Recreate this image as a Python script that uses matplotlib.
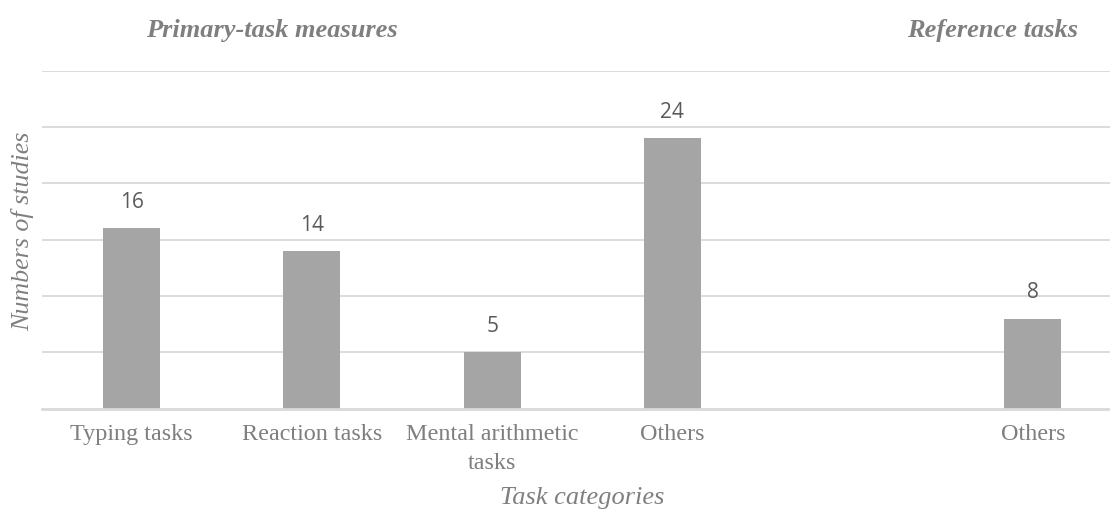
import numpy as np
import matplotlib
matplotlib.use("Agg")
import matplotlib.pyplot as plt

# categories (blank slot separates the two groups)
categories = ["Typing tasks", "Reaction tasks", "Mental arithmetic\ntasks", "Others", "", "Others"]
studies = [16, 14, 5, 24, np.nan, 8]
group_titles = ["Primary-task measures", "Reference tasks"]

serif = ["Liberation Serif", "DejaVu Serif"]
bar_color = "#a5a5a5"
grid_color = "#d9d9d9"
text_gray = "#7f7f7f"

fig = plt.figure(figsize=(11.1, 5.12), dpi=100)
ax = fig.add_axes([0.0374, 0.2018, 0.9743, 0.660])

x = np.arange(len(categories))
heights = np.nan_to_num(studies)
bars = ax.bar(x, heights, width=0.316, color=bar_color, zorder=3)

for xi, v in zip(x, studies):
    if np.isnan(v):
        continue
    ax.annotate(f"{int(v)}", (xi, v), xytext=(0, 11), textcoords="offset points",
                ha="center", va="bottom", fontsize=15, color="#595959",
                family=["Open Sans", "DejaVu Sans"])

ax.set_xlim(-0.5, len(categories) - 0.5)
ax.set_ylim(0, 30)
ax.set_yticks(np.arange(5, 31, 5))
ax.yaxis.grid(True, color=grid_color, linewidth=1.3, zorder=0)
ax.tick_params(axis="y", left=False, labelleft=False)
ax.set_xticks(x)
ax.set_xticklabels(categories, family=serif, fontsize=17.4, color=text_gray, linespacing=1.5)
ax.tick_params(axis="x", length=0, pad=11)

for s in ["top", "right", "left"]:
    ax.spines[s].set_visible(False)
ax.spines["bottom"].set_color(grid_color)
ax.spines["bottom"].set_linewidth(2)
ax.spines["bottom"].set_zorder(4)

fig.text(582 / 1110, 1 - 498 / 512, "Task categories", ha="center", va="center",
         family=serif, style="italic", fontsize=19, color=text_gray)
fig.text(23 / 1110, 1 - 231 / 512, "Numbers of studies", ha="center", va="center",
         rotation=90, family=serif, style="italic", fontsize=18.7, color=text_gray)

fig.text(272 / 1110, 1 - 30 / 512, group_titles[0], ha="center", va="center",
         family=serif, style="italic", weight="bold", fontsize=19, color=text_gray)
fig.text(993 / 1110, 1 - 30 / 512, group_titles[1], ha="center", va="center",
         family=serif, style="italic", weight="bold", fontsize=19, color=text_gray)

fig.savefig("out.png", dpi=100, facecolor="white")
